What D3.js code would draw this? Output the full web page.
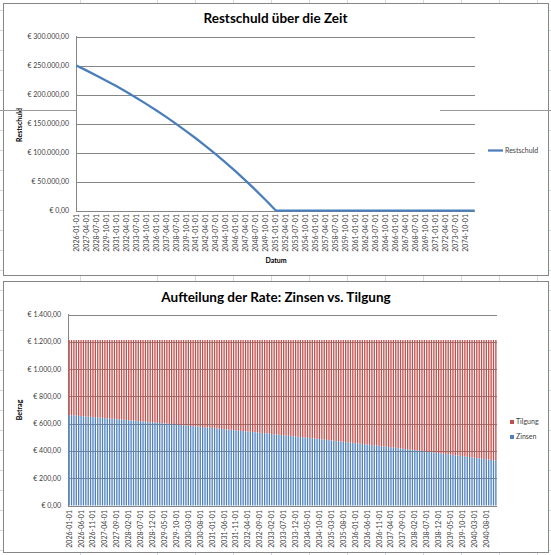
<!DOCTYPE html>
<html>
<head>
<meta charset="utf-8">
<script src="https://cdn.jsdelivr.net/npm/d3@7"></script>
<style>
  body { margin: 0; background: #fff; }
  svg { display: block; }
  text { font-family: Lato, "Open Sans", sans-serif; }
</style>
</head>
<body>
<div id="chart"></div>
<script>
const width = 551, height = 555;

// ---- Restschuld (read at the labelled dates, every 15 months) ----
const restTicks = [
  "2026-01-01","2027-04-01","2028-07-01","2029-10-01","2031-01-01","2032-04-01","2033-07-01","2034-10-01",
  "2036-01-01","2037-04-01","2038-07-01","2039-10-01","2041-01-01","2042-04-01","2043-07-01","2044-10-01",
  "2046-01-01","2047-04-01","2048-07-01","2049-10-01","2051-01-01","2052-04-01","2053-07-01","2054-10-01",
  "2056-01-01","2057-04-01","2058-07-01","2059-10-01","2061-01-01","2062-04-01","2063-07-01","2064-10-01",
  "2066-01-01","2067-04-01","2068-07-01","2069-10-01","2071-01-01","2072-04-01","2073-07-01","2074-10-01"
];
const restDates = restTicks.concat(["2075-12-01"]);
const restValues = [
  250000, 241600, 232900, 223900, 214500, 204700, 194500, 183900,
  172800, 161400, 149400, 137000, 124100, 110600, 96600, 82100,
  67000, 51200, 34800, 17800, 0, 0, 0, 0,
  0, 0, 0, 0, 0, 0, 0, 0,
  0, 0, 0, 0, 0, 0, 0, 0,
  0
];
const restYTicks = [0, 50000, 100000, 150000, 200000, 250000, 300000];

// ---- Aufteilung der Rate (monthly, 2026-01 .. 2040-12) ----
const rateTicks = [
  "2026-01-01","2026-06-01","2026-11-01","2027-04-01","2027-09-01","2028-02-01","2028-07-01","2028-12-01",
  "2029-05-01","2029-10-01","2030-03-01","2030-08-01","2031-01-01","2031-06-01","2031-11-01","2032-04-01",
  "2032-09-01","2033-02-01","2033-07-01","2033-12-01","2034-05-01","2034-10-01","2035-03-01","2035-08-01",
  "2036-01-01","2036-06-01","2036-11-01","2037-04-01","2037-09-01","2038-02-01","2038-07-01","2038-12-01",
  "2039-05-01","2039-10-01","2040-03-01","2040-08-01"
];
const zinsen = [
  663,662,660,659,657,656,654,653,651,650,648,647,
  645,644,642,641,639,638,636,635,633,632,630,629,
  627,625,624,622,621,619,618,616,615,613,611,610,
  608,606,605,603,602,600,598,597,595,594,592,590,
  588,587,585,583,582,580,578,577,575,573,572,570,
  568,567,565,563,561,560,558,556,555,553,551,549,
  547,546,544,542,540,539,537,535,533,532,530,528,
  526,524,522,521,519,517,515,513,511,510,508,506,
  504,502,500,498,496,494,493,491,489,487,485,483,
  481,479,477,475,473,471,469,467,465,463,461,460,
  457,455,453,451,449,447,445,443,441,439,437,435,
  433,431,429,427,425,423,420,418,416,414,412,410,
  408,406,403,401,399,397,395,393,391,388,386,384,
  382,380,377,375,373,371,368,366,364,362,360,357,
  355,353,350,348,346,343,341,339,337,334,332,330
];
const tilgung = [
  550,551,553,554,556,557,559,560,562,563,565,566,
  568,569,571,572,574,575,577,578,580,581,583,584,
  586,588,589,591,592,594,595,597,598,600,602,603,
  605,607,608,610,611,613,615,616,618,619,621,623,
  625,626,628,630,631,633,635,636,638,640,641,643,
  645,646,648,650,652,653,655,657,658,660,662,664,
  666,667,669,671,673,674,676,678,680,681,683,685,
  687,689,691,692,694,696,698,700,702,703,705,707,
  709,711,713,715,717,719,720,722,724,726,728,730,
  732,734,736,738,740,742,744,746,748,750,752,753,
  756,758,760,762,764,766,768,770,772,774,776,778,
  780,782,784,786,788,790,793,795,797,799,801,803,
  805,807,810,812,814,816,818,820,822,825,827,829,
  831,833,836,838,840,842,845,847,849,851,853,856,
  858,860,863,865,867,870,872,874,876,879,881,883
];
const rateYTicks = [0, 200, 400, 600, 800, 1000, 1200, 1400];

const blue = "#4f81bd", red = "#c0504d", gridCol = "#868686", tickCol = "#404040";

const de = d3.formatLocale({ decimal: ",", thousands: ".", grouping: [3], currency: ["€ ", ""] });
const euro = de.format("$,.2f");
const fmtDay = d3.timeFormat("%Y-%m-%d");
const parse = d3.timeParse("%Y-%m-%d");

const svg = d3.select("#chart").append("svg")
  .attr("width", width)
  .attr("height", height);

// Excel sheet grid behind the charts
const sheet = svg.append("g").attr("stroke", "#d0d7e5").attr("stroke-width", 1);
d3.range(10, height, 20).forEach(y => {
  sheet.append("line").attr("x1", 0).attr("x2", width).attr("y1", y + 0.5).attr("y2", y + 0.5);
});
[80, 157, 195, 233, 271, 309, 347, 385, 423, 461, 499, 537].forEach(x => {
  sheet.append("line").attr("x1", x + 0.5).attr("x2", x + 0.5).attr("y1", 0).attr("y2", height);
});

function frame(y0, y1) {
  svg.append("rect")
    .attr("x", 3.5).attr("y", y0 + 0.5)
    .attr("width", 545).attr("height", y1 - y0)
    .attr("fill", "#fff").attr("stroke", gridCol);
}

// ================= Chart 1: Restschuld =================
frame(3, 275);

const months1 = d3.timeMonth.range(parse("2026-01-01"), parse("2076-01-01")).map(fmtDay);
const x1 = d3.scaleBand().domain(months1).range([76, 475]);
const y1 = d3.scaleLinear().domain([0, 300000]).range([210.5, 36.5]);
const cx1 = d => x1(d) + x1.bandwidth() / 2;

const g1 = svg.append("g");
g1.selectAll(".grid").data(restYTicks).enter().append("line")
  .attr("x1", 76).attr("x2", 475)
  .attr("y1", d => Math.round(y1(d)) + 0.5).attr("y2", d => Math.round(y1(d)) + 0.5)
  .attr("stroke", gridCol);
g1.append("line").attr("x1", 76.5).attr("x2", 76.5).attr("y1", 36).attr("y2", 211).attr("stroke", gridCol);

g1.selectAll(".ylab").data(restYTicks).enter().append("text")
  .attr("x", 69).attr("y", d => y1(d)).attr("dy", "0.35em")
  .attr("text-anchor", "end").attr("font-size", 7).attr("fill", tickCol)
  .text(d => euro(d));

g1.selectAll(".xlab").data(restTicks).enter().append("text")
  .attr("transform", d => `translate(${cx1(d)},214) rotate(-90)`)
  .attr("dy", "0.35em").attr("text-anchor", "end")
  .attr("font-size", 7).attr("fill", tickCol)
  .text(d => d);

const line = d3.line().x((d, i) => cx1(restDates[i])).y(d => y1(d));
g1.append("path").datum(restValues)
  .attr("d", line).attr("fill", "none")
  .attr("stroke", "#4a7ebb").attr("stroke-width", 2.25).attr("stroke-linejoin", "round");

g1.append("text").attr("x", 275.5).attr("y", 23)
  .attr("text-anchor", "middle").attr("font-size", 13.5).attr("font-weight", "bold")
  .text("Restschuld über die Zeit");
g1.append("text").attr("transform", "translate(22,125) rotate(-90)")
  .attr("text-anchor", "middle").attr("font-size", 7).attr("font-weight", "bold")
  .text("Restschuld");
g1.append("text").attr("x", 276).attr("y", 263)
  .attr("text-anchor", "middle").attr("font-size", 7).attr("font-weight", "bold")
  .text("Datum");

g1.append("line").attr("x1", 488).attr("x2", 503).attr("y1", 150.5).attr("y2", 150.5)
  .attr("stroke", "#4a7ebb").attr("stroke-width", 2.25);
g1.append("text").attr("x", 505).attr("y", 150.5).attr("dy", "0.35em")
  .attr("font-size", 7).attr("fill", tickCol).text("Restschuld");

// stray sheet line across the first chart
svg.append("line").attr("x1", 0).attr("x2", 76).attr("y1", 110.5).attr("y2", 110.5).attr("stroke", "#999");
svg.append("line").attr("x1", 440).attr("x2", width).attr("y1", 110.5).attr("y2", 110.5).attr("stroke", "#999");

// ================= Chart 2: Zinsen vs. Tilgung =================
frame(281, 552);

const months2 = d3.timeMonth.range(parse("2026-01-01"), parse("2041-01-01")).map(fmtDay);
const x2 = d3.scaleBand().domain(months2).range([68, 497]).paddingInner(0.45).paddingOuter(0.2);
const y2 = d3.scaleLinear().domain([0, 1400]).range([505.5, 314.5]);

const g2 = svg.append("g");
g2.selectAll(".grid").data(rateYTicks).enter().append("line")
  .attr("x1", 68).attr("x2", 497)
  .attr("y1", d => Math.round(y2(d)) + 0.5).attr("y2", d => Math.round(y2(d)) + 0.5)
  .attr("stroke", gridCol);
g2.append("line").attr("x1", 68.5).attr("x2", 68.5).attr("y1", 314).attr("y2", 506).attr("stroke", gridCol);

const rows = months2.map((m, i) => ({ m, zinsen: zinsen[i], tilgung: tilgung[i] }));
const stacked = d3.stack().keys(["zinsen", "tilgung"])(rows);
const colors = { zinsen: blue, tilgung: red };

g2.selectAll(".layer").data(stacked).enter().append("g")
  .attr("fill", d => colors[d.key])
  .selectAll("rect").data(d => d).enter().append("rect")
  .attr("x", d => x2(d.data.m))
  .attr("width", x2.bandwidth())
  .attr("y", d => y2(d[1]))
  .attr("height", d => y2(d[0]) - y2(d[1]));

g2.selectAll(".ylab").data(rateYTicks).enter().append("text")
  .attr("x", 61).attr("y", d => y2(d)).attr("dy", "0.35em")
  .attr("text-anchor", "end").attr("font-size", 7).attr("fill", tickCol)
  .text(d => euro(d));

g2.selectAll(".xlab").data(rateTicks).enter().append("text")
  .attr("transform", d => `translate(${x2(d) + x2.bandwidth() / 2},510) rotate(-90)`)
  .attr("dy", "0.35em").attr("text-anchor", "end")
  .attr("font-size", 7).attr("fill", tickCol)
  .text(d => d);

g2.append("text").attr("x", 276).attr("y", 302)
  .attr("text-anchor", "middle").attr("font-size", 13.5).attr("font-weight", "bold")
  .text("Aufteilung der Rate: Zinsen vs. Tilgung");
g2.append("text").attr("transform", "translate(22,410) rotate(-90)")
  .attr("text-anchor", "middle").attr("font-size", 7).attr("font-weight", "bold")
  .text("Betrag");

const legend = [{ key: "tilgung", label: "Tilgung", y: 422 }, { key: "zinsen", label: "Zinsen", y: 437 }];
legend.forEach(l => {
  g2.append("rect").attr("x", 510).attr("y", l.y - 2).attr("width", 4).attr("height", 4).attr("fill", colors[l.key]);
  g2.append("text").attr("x", 516).attr("y", l.y).attr("dy", "0.35em")
    .attr("font-size", 7).attr("fill", tickCol).text(l.label);
});
</script>
</body>
</html>
